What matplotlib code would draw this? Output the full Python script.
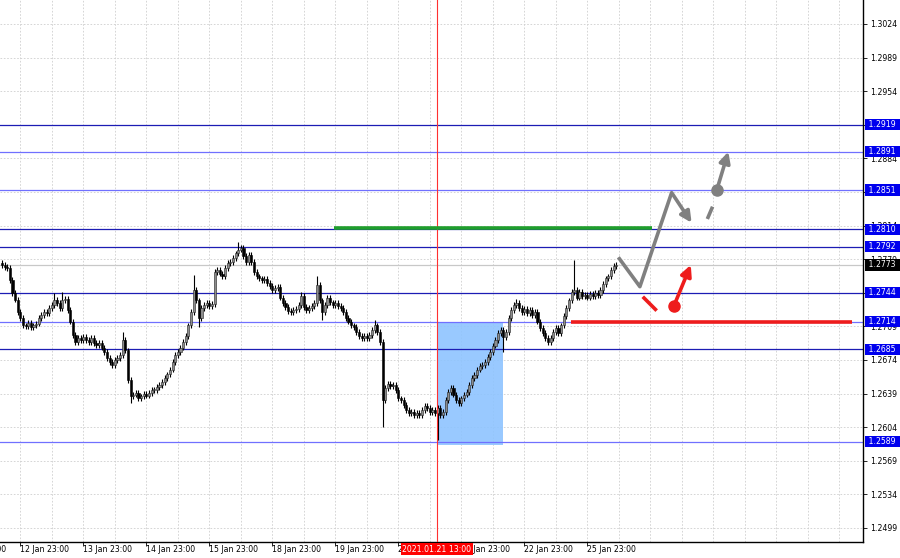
import matplotlib
matplotlib.use("Agg")
import matplotlib.pyplot as plt
import matplotlib.transforms as mtransforms
import numpy as np

# hourly closes (index 0 = first visible candle)
closes = [
    1.2773, 1.2771, 1.2770, 1.2757, 1.2744, 1.2737, 1.2724, 1.2718, 1.2710, 1.2709,
    1.2713, 1.2708, 1.2710, 1.2712, 1.2718, 1.2721, 1.2724, 1.2723, 1.2728, 1.2731,
    1.2737, 1.2733, 1.2728, 1.2736, 1.2738, 1.2726, 1.2714, 1.2700, 1.2693, 1.2697,
    1.2695, 1.2698, 1.2695, 1.2693, 1.2697, 1.2692, 1.2690, 1.2692, 1.2687, 1.2682,
    1.2676, 1.2672, 1.2669, 1.2674, 1.2676, 1.2679, 1.2695, 1.2684, 1.2653, 1.2636,
    1.2638, 1.2640, 1.2634, 1.2636, 1.2639, 1.2637, 1.2640, 1.2643, 1.2643, 1.2646,
    1.2648, 1.2651, 1.2655, 1.2659, 1.2664, 1.2672, 1.2679, 1.2682, 1.2687, 1.2693,
    1.2699, 1.2710, 1.2724, 1.2747, 1.2736, 1.2718, 1.2728, 1.2731, 1.2733, 1.2730,
    1.2732, 1.2766, 1.2768, 1.2764, 1.2761, 1.2770, 1.2775, 1.2776, 1.2780, 1.2785,
    1.2789, 1.2791, 1.2782, 1.2776, 1.2783, 1.2776, 1.2766, 1.2761, 1.2759, 1.2757,
    1.2758, 1.2754, 1.2751, 1.2747, 1.2749, 1.2750, 1.2739, 1.2733, 1.2729, 1.2725,
    1.2724, 1.2726, 1.2727, 1.2731, 1.2741, 1.2729, 1.2726, 1.2728, 1.2730, 1.2733,
    1.2752, 1.2736, 1.2724, 1.2731, 1.2739, 1.2734, 1.2731, 1.2733, 1.2730, 1.2728,
    1.2724, 1.2718, 1.2714, 1.2710, 1.2708, 1.2703, 1.2699, 1.2697, 1.2699, 1.2697,
    1.2700, 1.2705, 1.2710, 1.2703, 1.2693, 1.2632, 1.2645, 1.2649, 1.2647, 1.2648,
    1.2643, 1.2634, 1.2632, 1.2627, 1.2622, 1.2619, 1.2620, 1.2617, 1.2619, 1.2617,
    1.2622, 1.2626, 1.2624, 1.2620, 1.2622, 1.2619, 1.2624, 1.2617, 1.2620, 1.2632,
    1.2641, 1.2645, 1.2638, 1.2632, 1.2629, 1.2634, 1.2638, 1.2641, 1.2648, 1.2655,
    1.2658, 1.2664, 1.2668, 1.2669, 1.2672, 1.2677, 1.2682, 1.2689, 1.2695, 1.2702,
    1.2705, 1.2698, 1.2703, 1.2718, 1.2726, 1.2731, 1.2733, 1.2728, 1.2724, 1.2727,
    1.2723, 1.2726, 1.2721, 1.2724, 1.2714, 1.2707, 1.2702, 1.2697, 1.2693, 1.2697,
    1.2703, 1.2707, 1.2702, 1.2710, 1.2720, 1.2728, 1.2736, 1.2745, 1.2747, 1.2739,
    1.2745, 1.2741, 1.2742, 1.2739, 1.2743, 1.2741, 1.2744, 1.2742, 1.2747, 1.2753,
    1.2759, 1.2761, 1.2768, 1.2772, 1.2773,
]
first_open = 1.2775
wick = 0.0003
high_spikes = {0: 1.2778, 20: 1.2744, 23: 1.2745, 46: 1.2703, 73: 1.2763, 90: 1.2797,
               114: 1.2745, 120: 1.2761, 142: 1.2716, 196: 1.2738, 218: 1.2778}
low_spikes = {49: 1.2629, 75: 1.2708, 122: 1.2716, 145: 1.2604, 166: 1.2591, 191: 1.2682}

# horizontal levels (price, dark?)
levels = [1.2919, 1.2891, 1.2851, 1.2810, 1.2792, 1.2744, 1.2714, 1.2685, 1.2589]
level_dark = [True, False, False, True, True, True, False, True, False]
bid = 1.2773

y_ticks = [1.3024, 1.2989, 1.2954, 1.2919, 1.2884, 1.2849, 1.2814, 1.2779,
           1.2744, 1.2709, 1.2674, 1.2639, 1.2604, 1.2569, 1.2534, 1.2499]
date_idx = [-17, 7, 31, 55, 79, 103, 127, 151, 175, 199, 223]
date_labels = ["11 Jan 23:00", "12 Jan 23:00", "13 Jan 23:00", "14 Jan 23:00",
               "15 Jan 23:00", "18 Jan 23:00", "19 Jan 23:00", "20 Jan 23:00",
               "21 Jan 23:00", "22 Jan 23:00", "25 Jan 23:00"]
cursor_idx = 165.7
cursor_label = "2021.01.21 13:00"

# drawn objects (candle index, price)
box_x = [166.1, 190.9]
box_y = [1.25855, 1.2714]
green_x = [126.5, 247.6]
green_y = 1.2812
red_x = [216.8, 323.8]
red_y = 1.2714
gray_path_x = [234.8, 243.0, 255.1]
gray_path_y = [1.2781, 1.27504, 1.28483]
gray_arrow1 = [(255.1, 1.28483), (262.7, 1.2817)]
gray_dash = [(268.7, 1.28209), (270.7, 1.28337)]
gray_dot = (272.3, 1.28511)
gray_arrow2_tip = (276.7, 1.2891)
red_seg = [(244.1, 1.27399), (249.4, 1.27254)]
red_dot = (256.0, 1.27306)
red_arrow_tip = (262.4, 1.2773)

fig = plt.figure(figsize=(9, 5.58), dpi=100)
ax = fig.add_axes([0, 1 - 542 / 558, 863 / 900, 542 / 558])
ax.set_xlim(-0.76, 328.0)
ax.set_ylim(1.24844, 1.3049)

fs = 5.6
# grid
for gx in range(-5, 330, 12):
    ax.axvline(gx, color="#cfcfcf", lw=0.6, ls=(0, (2, 2)), zorder=0)
for gy in y_ticks:
    ax.axhline(gy, color="#cfcfcf", lw=0.6, ls=(0, (2, 2)), zorder=0)

# blue zone
ax.fill_between(box_x, box_y[0], box_y[1], color="#8ec4ff", alpha=0.9, lw=0, zorder=1)

# levels
for lv, dk in zip(levels, level_dark):
    ax.axhline(lv, color="#1c1cb4" if dk else "#7070ff", lw=0.9, zorder=2)
ax.axhline(bid, color="#c8c8c8", lw=0.9, zorder=2)

# candles
idx = np.arange(len(closes))
c = np.array(closes)
o = np.concatenate([[first_open], c[:-1]])
hi = np.maximum(o, c) + wick
lo = np.minimum(o, c) - wick
for k, v in high_spikes.items():
    hi[k] = v
for k, v in low_spikes.items():
    lo[k] = v
ax.vlines(idx, lo, hi, color="black", lw=0.8, zorder=3)
up = c >= o
body_h = np.maximum(np.abs(c - o), 0.00006)
ax.bar(idx[up], body_h[up], bottom=np.minimum(o, c)[up], width=0.8,
       color="#8c8c8c", edgecolor="#222222", lw=0.4, zorder=4)
ax.bar(idx[~up], body_h[~up], bottom=np.minimum(o, c)[~up], width=0.8,
       color="black", edgecolor="black", lw=0.4, zorder=4)

# cursor line
ax.axvline(cursor_idx, color="#ff3030", lw=0.8, zorder=5)

# green and red horizontals
ax.plot(green_x, [green_y, green_y], color="#1f9e2c", lw=2.6, zorder=6,
        solid_capstyle="butt")
ax.plot(red_x, [red_y, red_y], color="#ee1c1c", lw=2.6, zorder=6,
        solid_capstyle="butt")

# gray forecast
gray = "#808080"
ax.plot(gray_path_x, gray_path_y, color=gray, lw=2.6, zorder=7, solid_capstyle="butt")
ap = dict(arrowstyle="-|>", color=gray, lw=2.6, mutation_scale=16, shrinkA=0, shrinkB=0)
ax.annotate("", xy=gray_arrow1[1], xytext=gray_arrow1[0], arrowprops=ap, zorder=7)
ax.plot([p[0] for p in gray_dash], [p[1] for p in gray_dash], color=gray, lw=2.6,
        zorder=7, solid_capstyle="butt")
ax.plot(*gray_dot, "o", color=gray, ms=8, zorder=8)
ax.annotate("", xy=gray_arrow2_tip, xytext=gray_dot, arrowprops=ap, zorder=7)

# red forecast
redc = "#ee1c1c"
ax.plot([p[0] for p in red_seg], [p[1] for p in red_seg], color=redc, lw=2.6,
        zorder=7, solid_capstyle="butt")
ax.plot(*red_dot, "o", color=redc, ms=8, zorder=8)
apr = dict(arrowstyle="-|>", color=redc, lw=2.6, mutation_scale=16, shrinkA=0, shrinkB=0)
ax.annotate("", xy=red_arrow_tip, xytext=red_dot, arrowprops=apr, zorder=7)

# axes styling
for s in ["left", "top"]:
    ax.spines[s].set_visible(False)
ax.spines["right"].set_linewidth(1.0)
ax.spines["bottom"].set_linewidth(1.0)
ax.yaxis.tick_right()
ax.set_yticks(y_ticks)
ax.set_yticklabels([f"{t:.4f}" for t in y_ticks])
ax.tick_params(axis="y", length=3, width=0.6, labelsize=fs, pad=2, colors="black")
ax.set_xticks([d for d in date_idx if d >= 0])
ax.set_xticklabels([])
ax.tick_params(axis="x", length=3, width=0.6)

# date labels
tx = mtransforms.blended_transform_factory(ax.transData, ax.transAxes)
for d, lab in zip(date_idx, date_labels):
    ax.text(d - 0.3, -0.013, lab, transform=tx, ha="left", va="center",
            fontsize=fs, clip_on=False, zorder=1)
ax.text(cursor_idx, -0.013, cursor_label, transform=tx, ha="center", va="center",
        fontsize=fs, color="white", clip_on=False, zorder=20,
        bbox=dict(boxstyle="square,pad=0.25", fc="#ff0000", ec="none"))

# level price boxes on the right
ty = mtransforms.blended_transform_factory(ax.transAxes, ax.transData)
for lv in levels:
    ax.text(1.004, lv, f" {lv:.4f} ", transform=ty, ha="left", va="center",
            fontsize=fs, color="white", clip_on=False, zorder=20,
            bbox=dict(boxstyle="square,pad=0.15", fc="#0000ee", ec="none"))
ax.text(1.004, bid, f" {bid:.4f} ", transform=ty, ha="left", va="center",
        fontsize=fs, color="white", clip_on=False, zorder=21,
        bbox=dict(boxstyle="square,pad=0.15", fc="black", ec="none"))

fig.savefig("out.png", dpi=100)
